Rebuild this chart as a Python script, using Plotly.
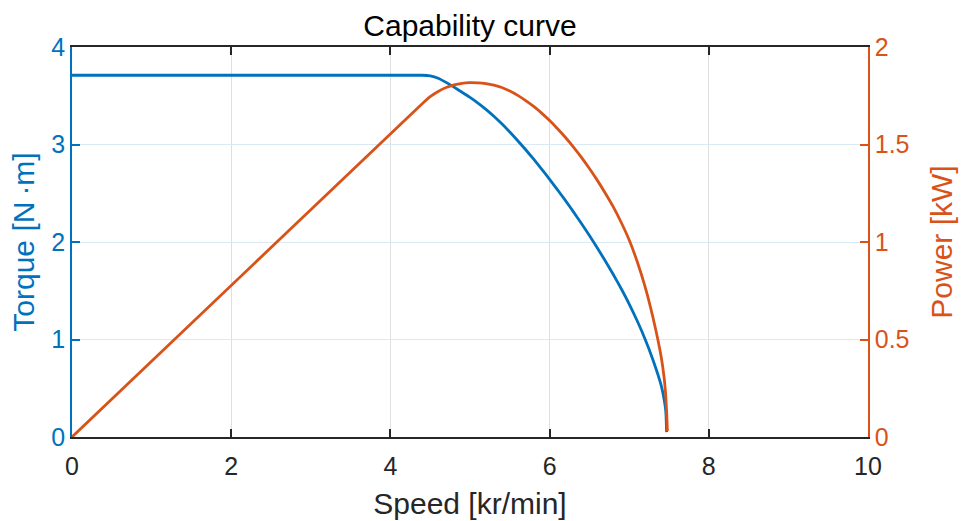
import plotly.graph_objects as go

# Data (torque curve)
speed_t = [0.0, 4.3, 4.4, 4.5, 4.6, 4.7, 4.8, 4.9, 5.0, 5.1, 5.2, 5.3, 5.4, 5.5, 5.6, 5.7, 5.8,
           5.9, 6.0, 6.1, 6.2, 6.3, 6.4, 6.5, 6.6, 6.7, 6.8, 6.9, 7.0, 7.1, 7.2, 7.3, 7.4,
           7.44, 7.46, 7.47]
torque_nm = [3.71, 3.71, 3.71, 3.703, 3.68, 3.637, 3.588, 3.536, 3.483, 3.425, 3.361, 3.29,
             3.212, 3.128, 3.039, 2.946, 2.849, 2.748, 2.643, 2.535, 2.424, 2.309, 2.19,
             2.067, 1.939, 1.806, 1.667, 1.52, 1.363, 1.192, 1.003, 0.788, 0.535,
             0.38, 0.26, 0.05]

# Data (power curve)
speed_p = [0.0, 4.3, 4.4, 4.5, 4.6, 4.7, 4.8, 4.9, 5.0, 5.1, 5.2, 5.3, 5.4, 5.5, 5.6, 5.7, 5.8,
           5.9, 6.0, 6.1, 6.2, 6.3, 6.4, 6.5, 6.6, 6.7, 6.8, 6.9, 7.0, 7.1, 7.2, 7.3, 7.4,
           7.44, 7.46, 7.47, 7.48]
power_kw = [0.0, 1.671, 1.709, 1.745, 1.772, 1.792, 1.806, 1.814, 1.817, 1.816, 1.812, 1.804,
            1.792, 1.774, 1.752, 1.725, 1.695, 1.661, 1.623, 1.581, 1.536, 1.487, 1.434,
            1.377, 1.316, 1.25, 1.18, 1.10, 1.01, 0.90, 0.77, 0.61, 0.415,
            0.30, 0.205, 0.13, 0.03]

x_ticks = [0, 2, 4, 6, 8, 10]
torque_ticks = [0, 1, 2, 3, 4]
power_ticks = [0, 0.5, 1, 1.5, 2]

BLUE = "#0072BD"
ORANGE = "#D95319"
DARK = "#262626"
FONT = "Liberation Sans, Arial, sans-serif"

fig = go.Figure()
fig.add_trace(go.Scatter(x=speed_t, y=torque_nm, mode="lines",
                         line=dict(color=BLUE, width=2.8, shape="spline", smoothing=0.5),
                         yaxis="y", showlegend=False))
fig.add_trace(go.Scatter(x=speed_p, y=power_kw, mode="lines",
                         line=dict(color=ORANGE, width=2.8, shape="spline", smoothing=0.5),
                         yaxis="y2", showlegend=False))

fig.update_layout(
    width=964, height=521,
    margin=dict(l=72, r=96, t=47, b=84),
    paper_bgcolor="white", plot_bgcolor="white",
    font=dict(family=FONT, size=25, color=DARK),
    title=dict(text="Capability curve", x=0.5, xref="paper", xanchor="center",
               y=0.952, yanchor="middle",
               font=dict(family=FONT, size=30, color="#000000")),
    xaxis=dict(range=[0, 10], tickvals=x_ticks, ticktext=[str(v) for v in x_ticks],
               showline=True, linecolor=DARK, linewidth=1.5, mirror="ticks",
               ticks="inside", ticklen=8, tickwidth=1.5, tickcolor=DARK,
               ticklabelstandoff=6, automargin=False,
               showgrid=True, gridcolor="#DFDFDF", gridwidth=1, zeroline=False,
               tickfont=dict(size=25, color=DARK),
               title=dict(text="Speed [kr/min]", font=dict(size=30, color=DARK), standoff=14)),
    yaxis=dict(range=[0, 4], tickvals=torque_ticks, ticktext=[str(v) for v in torque_ticks],
               showline=True, linecolor=BLUE, linewidth=1.5, automargin=False,
               ticks="inside", ticklen=8, tickwidth=1.5, tickcolor=BLUE,
               showgrid=True, gridcolor="#D9EAF5", gridwidth=1, zeroline=False,
               tickfont=dict(size=25, color=BLUE),
               title=dict(text="Torque [N\u2009\u00b7m]", font=dict(size=30, color=BLUE), standoff=8)),
    yaxis2=dict(range=[0, 2], tickvals=power_ticks, ticktext=["0", "0.5", "1", "1.5", "2"],
                overlaying="y", side="right", automargin=False,
                showline=True, linecolor=ORANGE, linewidth=1.5,
                ticks="inside", ticklen=8, tickwidth=1.5, tickcolor=ORANGE,
                showgrid=False, zeroline=False,
                tickfont=dict(size=25, color=ORANGE),
                title=dict(text="Power [kW]", font=dict(size=30, color=ORANGE), standoff=22)),
)

fig.write_html("out.html")
